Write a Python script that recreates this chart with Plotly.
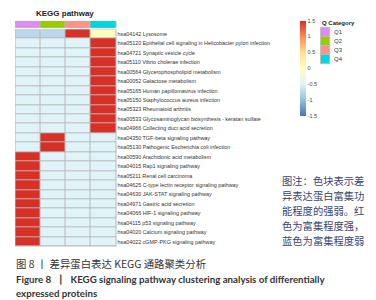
import plotly.graph_objects as go

quarters = ["Q1", "Q2", "Q3", "Q4"]
quarter_colors = ["#dd8cf0", "#99cc00", "#fc9487", "#00d6de"]

pathways = [
    "hsa04142 Lysosome",
    "hsa05120 Epithelial cell signaling in Helicobacter pylori infection",
    "hsa04721 Synaptic vesicle cycle",
    "hsa05110 Vibrio cholerae infection",
    "hsa00564 Glycerophospholipid metabolism",
    "hsa00052 Galactose metabolism",
    "hsa05165 Human papillomavirus infection",
    "hsa05150 Staphylococcus aureus infection",
    "hsa05323 Rheumatoid arthritis",
    "hsa00533 Glycosaminoglycan biosynthesis - keratan sulfate",
    "hsa04966 Collecting duct acid secretion",
    "hsa04350 TGF-beta signaling pathway",
    "hsa05130 Pathogenic Escherichia coli infection",
    "hsa00590 Arachidonic acid metabolism",
    "hsa04015 Rap1 signaling pathway",
    "hsa05211 Renal cell carcinoma",
    "hsa04625 C-type lectin receptor signaling pathway",
    "hsa04630 JAK-STAT signaling pathway",
    "hsa04971 Gastric acid secretion",
    "hsa04066 HIF-1 signaling pathway",
    "hsa04115 p53 signaling pathway",
    "hsa04020 Calcium signaling pathway",
    "hsa04022 cGMP-PKG signaling pathway",
]

q1_values = [-0.75] + [-0.5] * 10 + [-0.5] * 2 + [1.5] * 10
q2_values = [-0.75] + [-0.5] * 10 + [1.5] * 2 + [-0.5] * 10
q3_values = [1.5] + [-0.5] * 10 + [-0.5] * 2 + [-0.5] * 10
q4_values = [0.0] + [1.5] * 10 + [-0.5] * 2 + [-0.5] * 10

colorbar_ticks = [1.5, 1, 0.5, 0, -0.5, -1, -1.5]
colorbar_ticktext = ["1.5", "1", "0.5", "0", "-0.5", "-1", "-1.5"]

note_lines = ["图注：色块表示差", "异表达蛋白富集功", "能程度的强弱。红", "色为富集程度强，", "蓝色为富集程度弱"]
caption_cn = "图 8 丨 差异蛋白表达 KEGG 通路聚类分析"
caption_en = ["Figure 8  丨  KEGG signaling pathway clustering analysis of differentially",
              "expressed proteins"]

W, H = 376, 300
rdylbu_r = [
    [0.0, "#4575b4"], [1/6, "#91bfdb"], [2/6, "#e0f3f8"], [0.5, "#ffffbf"],
    [4/6, "#fee090"], [5/6, "#fc8d59"], [1.0, "#d73027"],
]

z = [[a, b, c, d] for a, b, c, d in zip(q1_values, q2_values, q3_values, q4_values)]

fig = go.Figure()
fig.add_trace(go.Heatmap(
    z=z, x=quarters, y=pathways, zmin=-1.5, zmax=1.5, colorscale=rdylbu_r,
    xgap=1, ygap=1, xaxis="x", yaxis="y",
    colorbar=dict(thickness=6, len=94.5 / H, lenmode="fraction", x=292 / W, xanchor="left",
                  y=1 - 12.7 / H, yanchor="top", xpad=0, ypad=0, outlinewidth=0,
                  tickvals=colorbar_ticks, ticktext=colorbar_ticktext, ticks="",
                  tickfont=dict(size=5.5, color="#444", family="Liberation Sans")),
))
n = len(quarters)
cat_z = [[i / (n - 1) for i in range(n)]]
cat_scale = []
for i, c in enumerate(quarter_colors):
    cat_scale.append([i / n, c])
    cat_scale.append([(i + 1) / n, c])
cat_scale[0][0] = 0.0
cat_scale[-1][0] = 1.0
fig.add_trace(go.Heatmap(
    z=cat_z, x=quarters, y=["Q Category"], zmin=0, zmax=1, colorscale=cat_scale,
    showscale=False, xgap=1, ygap=0, xaxis="x", yaxis="y2",
))

fig.update_layout(
    width=W, height=H, margin=dict(l=0, r=0, t=0, b=0),
    paper_bgcolor="white", plot_bgcolor="#b8b8b8", showlegend=False,
    xaxis=dict(domain=[7 / W, 108.5 / W], showticklabels=False, ticks="", showgrid=False,
               zeroline=False, range=[-0.52, 3.52]),
    yaxis=dict(domain=[1 - 238.5 / H, 1 - 21.3 / H], autorange="reversed", side="right",
               showgrid=False, zeroline=False, ticks="", ticklen=0,
               tickfont=dict(size=5.4, color="#333", family="Liberation Sans")),
    yaxis2=dict(domain=[1 - 19.8 / H, 1 - 13 / H], showticklabels=False, showgrid=False,
                zeroline=False, range=[-0.5, 0.5]),
)

ann = []
ann.append(dict(text="<b>KEGG pathway</b>", x=57 / W, y=1 - 5.5 / H, xref="paper", yref="paper",
                showarrow=False, xanchor="center", yanchor="middle",
                font=dict(size=8, color="#222", family="Liberation Sans")))
ann.append(dict(text="<b>Q Category</b>", x=312 / W, y=1 - 15 / H, xref="paper", yref="paper",
                showarrow=False, xanchor="left", yanchor="middle",
                font=dict(size=6, color="#222", family="Liberation Sans")))
shapes = []
box_h = 9.1
for i, (q, c) in enumerate(zip(quarters, quarter_colors)):
    top = 19.3 + i * box_h
    shapes.append(dict(type="rect", xref="paper", yref="paper",
                       x0=312.5 / W, x1=321.7 / W, y0=1 - (top + box_h) / H, y1=1 - top / H,
                       fillcolor=c, line=dict(color="#bbbbbb", width=0.8)))
    ann.append(dict(text=q, x=324 / W, y=1 - (top + box_h / 2) / H, xref="paper", yref="paper",
                    showarrow=False, xanchor="left", yanchor="middle",
                    font=dict(size=6, color="#333", family="Liberation Sans")))

for i, line in enumerate(note_lines):
    ann.append(dict(text=line, x=272 / W, y=1 - (172 + i * 15.2) / H, xref="paper", yref="paper",
                    showarrow=False, xanchor="left", yanchor="middle",
                    font=dict(size=10.3, color="#3a4470", family="Noto Sans CJK SC")))

ann.append(dict(text=caption_cn, x=6 / W, y=1 - 255 / H, xref="paper", yref="paper",
                showarrow=False, xanchor="left", yanchor="middle",
                font=dict(size=10.4, color="#333", family="Noto Sans CJK SC")))
for i, line in enumerate(caption_en):
    ann.append(dict(text="<b>" + line + "</b>", x=6 / W, y=1 - (270.5 + i * 14) / H,
                    xref="paper", yref="paper", showarrow=False, xanchor="left", yanchor="middle",
                    font=dict(size=9.7, color="#333", family="Lato")))

fig.update_layout(annotations=ann, shapes=shapes)
fig.write_html("out.html")
